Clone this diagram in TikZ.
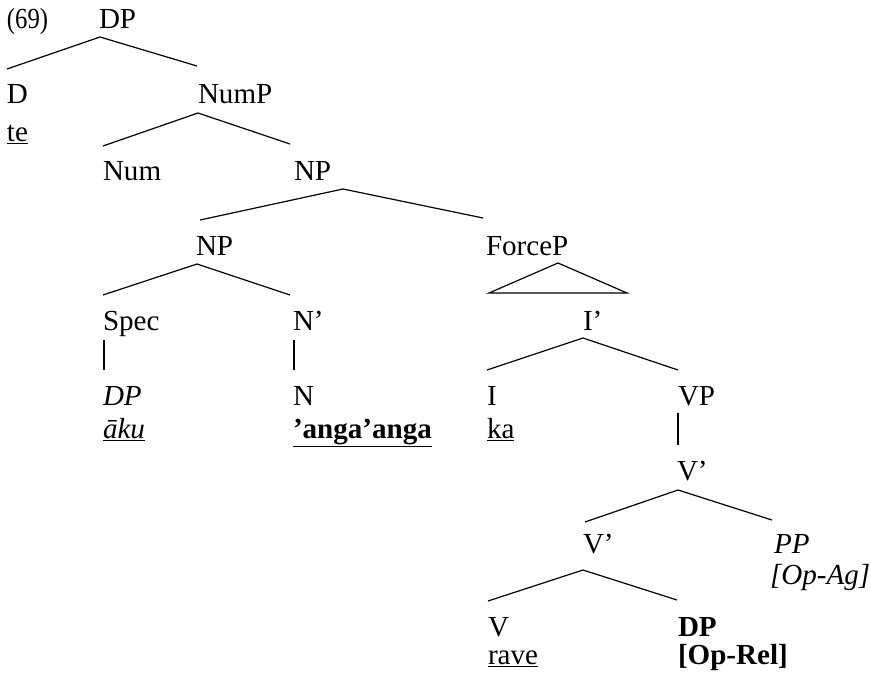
\documentclass[tikz,border=0pt]{standalone}
\usepackage{fontspec}
\setmainfont{Liberation Serif}
\begin{document}
\begin{tikzpicture}[x=0.75pt,y=-0.75pt,
  lbl/.style={anchor=base west,inner sep=0pt,outer sep=0pt,font=\fontsize{21.8}{26}\selectfont},
  br/.style={line width=0.9pt,line join=miter}]
\useasboundingbox (0,0) rectangle (871,678);
% labels
\node[lbl] (ex) at (7,28) {\scalebox{0.85}[1]{(69)}};
\node[lbl] (dp0) at (99,28) {DP};
\node[lbl] (d) at (7,103) {D};
\node[lbl] (te) at (7,141) {\underline{te}};
\node[lbl] (nump) at (198,103) {NumP};
\node[lbl] (num) at (103,180) {Num};
\node[lbl] (np1) at (294,180) {NP};
\node[lbl] (np2) at (196,255) {NP};
\node[lbl] (forcep) at (486,255) {ForceP};
\node[lbl] (spec) at (103,330) {Spec};
\node[lbl] (nbar) at (293,330) {N'};
\node[lbl] (ibar) at (583,330) {I'};
\node[lbl] (dpi) at (103,405) {\itshape DP};
\node[lbl] (n) at (293,405) {N};
\node[lbl] (i) at (487,405) {I};
\node[lbl] (vp) at (678,405) {VP};
\node[lbl] (aku) at (103,438) {\itshape\underline{āku}};
\node[lbl] (anga) at (293,438) {\bfseries\underline{'anga'anga}};
\node[lbl] (ka) at (487,438) {\underline{ka}};
\node[lbl] (vbar1) at (677,480) {V'};
\node[lbl] (vbar2) at (583,553) {V'};
\node[lbl] (pp) at (774,553) {\itshape PP};
\node[lbl] (opag) at (770,584) {\itshape [Op-Ag]};
\node[lbl] (v) at (488,636) {V};
\node[lbl] (dpb) at (678,636) {\bfseries DP};
\node[lbl] (rave) at (488,664) {\underline{rave}};
\node[lbl] (oprel) at (678,664) {\bfseries [Op-Rel]};
% branch points
\coordinate (a0) at (100,37);  \coordinate (a0l) at (7,69);   \coordinate (a0r) at (197,66);
\coordinate (a1) at (198,113); \coordinate (a1l) at (103,146); \coordinate (a1r) at (290,144);
\coordinate (a2) at (343,189); \coordinate (a2l) at (200,220); \coordinate (a2r) at (483,218);
\coordinate (a3) at (197,264); \coordinate (a3l) at (103,295); \coordinate (a3r) at (290,295);
\coordinate (t0) at (558,263); \coordinate (tl) at (489,293);  \coordinate (tr) at (627,293);
\coordinate (a4) at (583,338); \coordinate (a4l) at (487,370); \coordinate (a4r) at (678,370);
\coordinate (s1) at (104,340); \coordinate (s2) at (104,370);
\coordinate (n1) at (294,340); \coordinate (n2) at (294,370);
\coordinate (v1) at (678,413); \coordinate (v2) at (678,445);
\coordinate (a5) at (678,490); \coordinate (a5l) at (585,522); \coordinate (a5r) at (772,520);
\coordinate (a6) at (583,570); \coordinate (a6l) at (488,601); \coordinate (a6r) at (677,600);
% branches
\draw[br] (a0l) -- (a0) -- (a0r);
\draw[br] (a1l) -- (a1) -- (a1r);
\draw[br] (a2l) -- (a2) -- (a2r);
\draw[br] (a3l) -- (a3) -- (a3r);
\draw[br] (t0) -- (tl) -- (tr) -- cycle;
\draw[br] (a4l) -- (a4) -- (a4r);
\draw[br] (s1) -- (s2);
\draw[br] (n1) -- (n2);
\draw[br] (v1) -- (v2);
\draw[br] (a5l) -- (a5) -- (a5r);
\draw[br] (a6l) -- (a6) -- (a6r);
\end{tikzpicture}
\end{document}
